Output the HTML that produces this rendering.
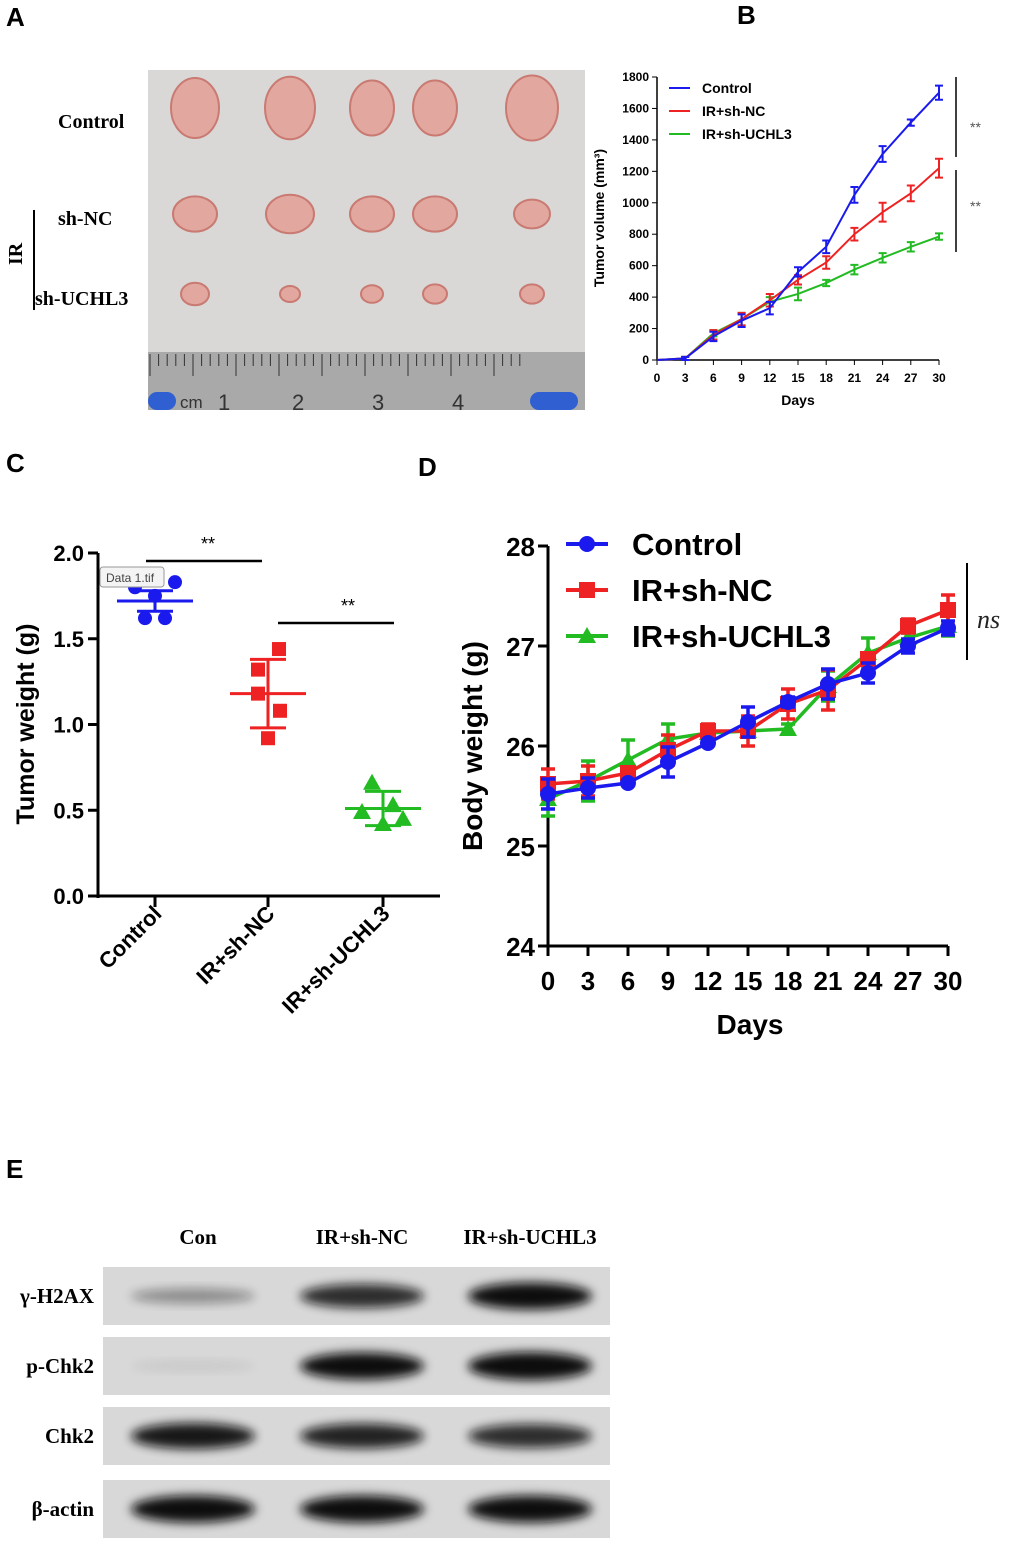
<!DOCTYPE html>
<html><head><meta charset="utf-8"><style>
body{margin:0;background:#fff;width:1020px;height:1551px;overflow:hidden;font-family:"Liberation Sans",Arial,sans-serif}
svg text{font-family:"Liberation Sans",Arial,sans-serif}
svg text.serif{font-family:"Liberation Serif",serif}
</style></head><body>
<svg id="fig" width="1020" height="1551">
<g font-weight="bold" font-size="26">
<text x="6" y="26">A</text>
<text x="737" y="24">B</text>
<text x="6" y="472">C</text>
<text x="418" y="476">D</text>
<text x="6" y="1178">E</text>
</g>
<g>
<rect x="148" y="70" width="437" height="340" fill="#d9d8d6"/>
<rect x="148" y="352" width="437" height="58" fill="#a9a9a9"/>
<g id="ruler" stroke="#333" stroke-width="1"></g>
<text x="180" y="408" font-size="17" fill="#333">cm</text>
<text x="218" y="410" font-size="22" fill="#333">1</text>
<text x="292" y="410" font-size="22" fill="#333">2</text>
<text x="372" y="410" font-size="22" fill="#333">3</text>
<text x="452" y="410" font-size="22" fill="#333">4</text>
<rect x="148" y="392" width="28" height="18" rx="9" fill="#2f5fd0"/>
<rect x="530" y="392" width="48" height="18" rx="9" fill="#2f5fd0"/>
<g id="tumors"></g>
</g>
<g font-weight="bold" font-size="20">
<text x="58" y="128" class="serif">Control</text>
<text x="58" y="225" class="serif">sh-NC</text>
<text x="35" y="305" class="serif">sh-UCHL3</text>
<text x="0" y="0" class="serif" transform="translate(22,265) rotate(-90)">IR</text>
<line x1="34" y1="210" x2="34" y2="310" stroke="#000" stroke-width="2"/>
</g>
<g id="pb"></g>
<g id="pc"></g>
<g id="pd"></g>
<g id="pe"></g>
</svg>
<script>
const NS='http://www.w3.org/2000/svg';
function mk(p,t,a,txt){const e=document.createElementNS(NS,t);for(const k in a)e.setAttribute(k,a[k]);if(txt!==undefined)e.textContent=txt;p.appendChild(e);return e;}
const rl=document.getElementById('ruler');
for(let i=0;i<44;i++){const x=150+i*8.6;mk(rl,'line',{x1:x,y1:354,x2:x,y2:354+(i%5==0?22:12)});}
const tumorsX=[195,290,372,435,532];
const tumorRows=[{y:108,r:[24,25,22,22,26]},{y:214,r:[22,24,22,22,18]},{y:294,r:[14,10,11,12,12]}];
const tg=document.getElementById('tumors');
tumorRows.forEach((row,ri)=>{tumorsX.forEach((x,i)=>{const e=mk(tg,'ellipse',{cx:x,cy:row.y,rx:row.r[i],ry:row.r[i]*(ri==0?1.25:0.8),fill:'#e2a79e',stroke:'#c97a72','stroke-width':2});

});});

// ===== Panel B =====
const bDays=[0,3,6,9,12,15,18,21,24,27,30];
const bControl=[0,10,150,250,330,560,720,1050,1310,1510,1700];
const bControlErr=[0,10,30,40,40,30,40,50,50,20,45];
const bNC=[0,10,160,260,380,510,620,800,940,1060,1220];
const bNCErr=[0,10,30,40,40,30,40,40,60,50,60];
const bUCHL3=[0,10,170,260,370,420,490,575,650,720,785];
const bUCHL3Err=[0,10,20,40,30,40,20,30,30,30,20];
const bYTicks=[0,200,400,600,800,1000,1200,1400,1600,1800];
(function(){const g=document.getElementById('pb');
const X=d=>657+d/30*282, Y=v=>360-v/1800*283;
mk(g,'line',{x1:657,y1:Y(0),x2:657,y2:Y(1800),stroke:'#000','stroke-width':1.5});
mk(g,'line',{x1:657,y1:360,x2:939,y2:360,stroke:'#000','stroke-width':1.5});
bYTicks.forEach(v=>{mk(g,'line',{x1:652,y1:Y(v),x2:657,y2:Y(v),stroke:'#000'});const t=mk(g,'text',{x:649,y:Y(v)+4,'font-size':12,'font-weight':'bold','text-anchor':'end'},v);});
bDays.forEach(d=>{mk(g,'line',{x1:X(d),y1:360,x2:X(d),y2:365,stroke:'#000'});const t=mk(g,'text',{x:X(d),y:382,'font-size':12,'font-weight':'bold','text-anchor':'middle'},d);});
const xt=mk(g,'text',{x:798,y:405,'font-size':14,'font-weight':'bold','text-anchor':'middle'},'Days');
const yt=mk(g,'text',{transform:'translate(604,218) rotate(-90)','font-size':14,'font-weight':'bold','text-anchor':'middle'},'Tumor volume (mm³)');
[[bUCHL3,bUCHL3Err,'#22bb22'],[bNC,bNCErr,'#ee2222'],[bControl,bControlErr,'#1a1aee']].forEach(([v,e,c])=>{
const p=mk(g,'polyline',{points:bDays.map((d,i)=>X(d)+','+Y(v[i])).join(' '),fill:'none',stroke:c,'stroke-width':2});
bDays.forEach((d,i)=>{if(!e[i])return;const x=X(d);mk(g,'path',{d:`M${x},${Y(v[i]-e[i])}V${Y(v[i]+e[i])}M${x-4},${Y(v[i]-e[i])}h8M${x-4},${Y(v[i]+e[i])}h8`,stroke:c,'stroke-width':2});});});
const leg=[['Control','#1a1aee'],['IR+sh-NC','#ee2222'],['IR+sh-UCHL3','#22bb22']];
leg.forEach((l,i)=>{const y=88+i*23;mk(g,'line',{x1:669,y1:y,x2:690,y2:y,stroke:l[1],'stroke-width':2});const t=mk(g,'text',{x:702,y:y+5,'font-size':14,'font-weight':'bold'},l[0]);});
mk(g,'line',{x1:956,y1:77,x2:956,y2:157,stroke:'#000','stroke-width':1.5});
mk(g,'line',{x1:956,y1:170,x2:956,y2:252,stroke:'#000','stroke-width':1.5});
mk(g,'text',{x:970,y:132,'font-size':14,fill:'#555'},'**');mk(g,'text',{x:970,y:211,'font-size':14,fill:'#555'},'**');
})();

// ===== Panel C =====
const cGroups=['Control','IR+sh-NC','IR+sh-UCHL3'];
const cControl=[1.80,1.83,1.75,1.62,1.62];
const cNC=[1.44,1.32,1.18,1.08,0.92];
const cUCHL3=[0.66,0.53,0.49,0.45,0.42];
const cMean=[1.72,1.18,0.51];
const cSD=[0.06,0.20,0.10];
const cYTicks=['0.0','0.5','1.0','1.5','2.0'];
(function(){const g=document.getElementById('pc');
const Y=v=>896-v/2*343, cx=[155,268,383], off=[[-20,20,0,-10,10],[11,-10,-10,12,0],[-11,10,-21,20,0]];
mk(g,'line',{x1:98,y1:553,x2:98,y2:898,stroke:'#000','stroke-width':3});
mk(g,'line',{x1:97,y1:896,x2:440,y2:896,stroke:'#000','stroke-width':3});
cYTicks.forEach(s=>{const v=+s;mk(g,'line',{x1:88,y1:Y(v),x2:98,y2:Y(v),stroke:'#000','stroke-width':3});const t=mk(g,'text',{x:84,y:Y(v)+8,'font-size':22,'font-weight':'bold','text-anchor':'end'},s);});
cGroups.forEach((n,i)=>{mk(g,'line',{x1:cx[i],y1:896,x2:cx[i],y2:907,stroke:'#000','stroke-width':3});const t=mk(g,'text',{transform:`translate(${cx[i]+8},${915}) rotate(-45)`,'font-size':22,'font-weight':'bold','text-anchor':'end'},n);});
const yt=mk(g,'text',{transform:'translate(34,724) rotate(-90)','font-size':25,'font-weight':'bold','text-anchor':'middle'},'Tumor weight (g)');
const cols=['#1a1aee','#ee2222','#22bb22'];
[cControl,cNC,cUCHL3].forEach((arr,gi)=>{const c=cols[gi],x0=cx[gi];
arr.forEach((v,j)=>{const x=x0+off[gi][j],y=Y(v);let e;
if(gi==0)e=mk(g,'circle',{cx:x,cy:y,r:7,fill:c});else if(gi==1)e=mk(g,'rect',{x:x-7,y:y-7,width:14,height:14,fill:c});else e=mk(g,'polygon',{points:`${x},${y-9} ${x+9},${y+7} ${x-9},${y+7}`,fill:c});
});
mk(g,'line',{x1:x0-38,y1:Y(cMean[gi]),x2:x0+38,y2:Y(cMean[gi]),stroke:c,'stroke-width':3});
mk(g,'path',{d:`M${x0},${Y(cMean[gi]-cSD[gi])}V${Y(cMean[gi]+cSD[gi])}M${x0-18},${Y(cMean[gi]-cSD[gi])}h36M${x0-18},${Y(cMean[gi]+cSD[gi])}h36`,stroke:c,'stroke-width':3,fill:'none'});});
mk(g,'line',{x1:146,y1:561,x2:262,y2:561,stroke:'#000','stroke-width':2.5});
mk(g,'line',{x1:278,y1:623,x2:394,y2:623,stroke:'#000','stroke-width':2.5});
mk(g,'text',{x:208,y:550,'font-size':18,'text-anchor':'middle'},'**');mk(g,'text',{x:348,y:612,'font-size':18,'text-anchor':'middle'},'**');
mk(g,'rect',{x:100,y:567,width:64,height:20,rx:3,fill:'#f4f4f4',stroke:'#999'});
mk(g,'text',{x:106,y:582,'font-size':12,fill:'#444'},'Data 1.tif');
})();

// ===== Panel D =====
const dDays=[0,3,6,9,12,15,18,21,24,27,30];
const dControl=[25.52,25.58,25.63,25.84,26.03,26.24,26.44,26.62,26.73,27.00,27.18];
const dControlErr=[0.15,0.1,0.02,0.15,0.02,0.15,0.05,0.15,0.1,0.07,0.07];
const dNC=[25.62,25.65,25.73,25.96,26.15,26.15,26.42,26.56,26.87,27.20,27.36];
const dNCErr=[0.15,0.15,0.05,0.15,0.07,0.15,0.15,0.2,0.05,0.07,0.15];
const dUCHL3=[25.47,25.65,25.86,26.07,26.13,26.15,26.17,26.60,26.93,27.08,27.20];
const dUCHL3Err=[0.17,0.2,0.2,0.15,0.05,0.05,0.05,0.15,0.15,0.05,0.1];
const dYTicks=[24,25,26,27,28];
(function(){const g=document.getElementById('pd');
const X=d=>548+d/30*400, Y=v=>946-(v-24)/4*400;
mk(g,'line',{x1:548,y1:546,x2:548,y2:948,stroke:'#000','stroke-width':3});
mk(g,'line',{x1:547,y1:946,x2:948,y2:946,stroke:'#000','stroke-width':3});
dYTicks.forEach(v=>{mk(g,'line',{x1:538,y1:Y(v),x2:548,y2:Y(v),stroke:'#000','stroke-width':3});const t=mk(g,'text',{x:535,y:Y(v)+10,'font-size':26,'font-weight':'bold','text-anchor':'end'},v);});
dDays.forEach(d=>{mk(g,'line',{x1:X(d),y1:946,x2:X(d),y2:956,stroke:'#000','stroke-width':3});const t=mk(g,'text',{x:X(d),y:990,'font-size':26,'font-weight':'bold','text-anchor':'middle'},d);});
const xt=mk(g,'text',{x:750,y:1034,'font-size':28,'font-weight':'bold','text-anchor':'middle'},'Days');
const yt=mk(g,'text',{transform:'translate(482,746) rotate(-90)','font-size':28,'font-weight':'bold','text-anchor':'middle'},'Body weight (g)');
const S=[[dUCHL3,dUCHL3Err,'#22bb22','tri'],[dNC,dNCErr,'#ee2222','sq'],[dControl,dControlErr,'#1a1aee','ci']];
function mark(x,y,c,t){let e;if(t=='ci')e=mk(g,'circle',{cx:x,cy:y,r:8,fill:c});else if(t=='sq')e=mk(g,'rect',{x:x-8,y:y-8,width:16,height:16,fill:c});else e=mk(g,'polygon',{points:`${x},${y-9} ${x+9},${y+7} ${x-9},${y+7}`,fill:c});}
S.forEach(([v,e,c,t])=>{
dDays.forEach((d,i)=>{const x=X(d);mk(g,'path',{d:`M${x},${Y(v[i]-e[i])}V${Y(v[i]+e[i])}M${x-7},${Y(v[i]-e[i])}h14M${x-7},${Y(v[i]+e[i])}h14`,stroke:c,'stroke-width':3.5});});
const p=mk(g,'polyline',{points:dDays.map((d,i)=>X(d)+','+Y(v[i])).join(' '),fill:'none',stroke:c,'stroke-width':3.5});
dDays.forEach((d,i)=>mark(X(d),Y(v[i]),c,t));});
const leg=[['Control','#1a1aee','ci'],['IR+sh-NC','#ee2222','sq'],['IR+sh-UCHL3','#22bb22','tri']];
leg.forEach((l,i)=>{const y=544+i*46;mk(g,'line',{x1:566,y1:y,x2:608,y2:y,stroke:l[1],'stroke-width':4});mark(587,y,l[1],l[2]);const t=mk(g,'text',{x:632,y:y+11,'font-size':31,'font-weight':'bold'},l[0]);});
mk(g,'line',{x1:967,y1:563,x2:967,y2:660,stroke:'#000','stroke-width':2});
mk(g,'text',{x:977,y:628,'font-size':26,'font-style':'italic','class':'serif',fill:'#222'},'ns');
})();

// ===== Panel E =====
const eLanes=['Con','IR+sh-NC','IR+sh-UCHL3'];
const eProteins=['γ-H2AX','p-Chk2','Chk2','β-actin'];
const eIntensity=[[0.35,0.8,0.95],[0.08,0.95,1.0],[0.9,0.85,0.8],[0.95,0.95,0.95]];
(function(){const g=document.getElementById('pe');
const laneX=[198,362,530], rowY=[1267,1337,1407,1480];
const defs=mk(g,'defs',{});const f=mk(defs,'filter',{id:'blur',x:'-20%',y:'-50%',width:'140%',height:'200%'});mk(f,'feGaussianBlur',{stdDeviation:5});
eLanes.forEach((n,i)=>{const t=mk(g,'text',{x:laneX[i],y:1244,'font-size':21,'font-weight':'bold','text-anchor':'middle','class':'serif'},n);});
eProteins.forEach((p,r)=>{const y=rowY[r];
const bx=mk(g,'rect',{x:103,y:y,width:507,height:58,fill:'#d8d8d8'});
const t=mk(g,'text',{x:94,y:y+36,'font-size':21,'font-weight':'bold','text-anchor':'end','class':'serif'},p);
eIntensity[r].forEach((v,i)=>{const b=mk(g,'ellipse',{cx:laneX[i]-(i==0?5:0),cy:y+29,rx:62,ry:4+v*10,fill:'#111',opacity:Math.min(1,v*1.05),filter:'url(#blur)'});});});
})();
</script>
</body></html>
